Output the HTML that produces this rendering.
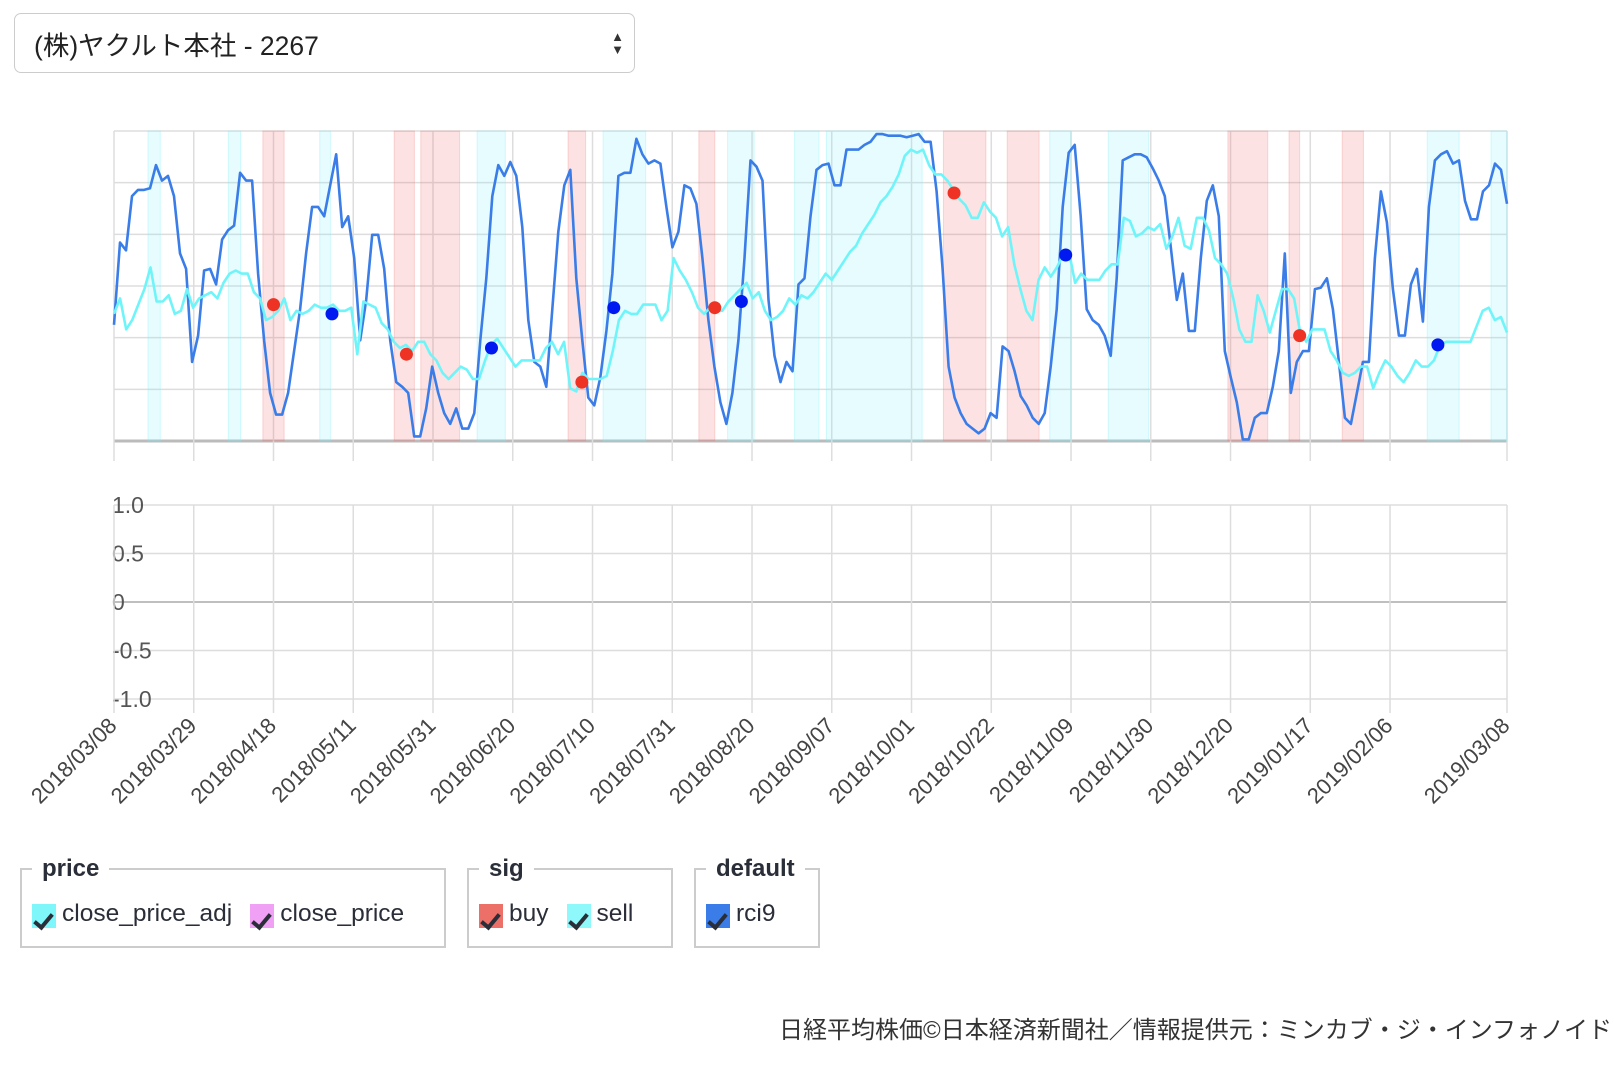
<!DOCTYPE html>
<html><head><meta charset="utf-8">
<style>
html,body{margin:0;padding:0;background:#fff;}
body{width:1614px;height:1074px;overflow:hidden;position:relative;font-family:"Liberation Sans","Noto Sans CJK JP",sans-serif;}
#sel{position:absolute;left:14px;top:13px;width:621px;height:60px;border:1px solid #ccc;border-radius:7px;box-sizing:border-box;background:#fff;}
#sel span{position:absolute;left:19px;top:10px;font-size:26.5px;color:#222;}
#sel i{position:absolute;right:10px;top:16px;font-style:normal;font-size:13px;line-height:13px;color:#333;}
fieldset{position:absolute;top:855px;height:93px;border:2px solid #ccc;margin:0;padding:0 10px;box-sizing:border-box;}
legend{font-weight:bold;font-size:24px;color:#2a2e38;padding:0 10px;}
.item{display:inline-block;font-size:24.5px;color:#2a2e38;margin-right:18px;margin-top:17px;position:relative;padding-left:30px;}
.sw{position:absolute;left:0;top:4px;width:24px;height:24px;}
.sw:after{content:"";position:absolute;left:6px;top:6px;width:7px;height:15px;border-right:4px solid #2a2e38;border-bottom:4px solid #2a2e38;transform:rotate(40deg);}
#foot{position:absolute;right:2px;top:1010px;font-size:24px;color:#333;}
</style></head><body>
<div id="sel"><span>(株)ヤクルト本社 - 2267</span><i>▲<br>▼</i></div>
<svg id="chart" width="1614" height="840" style="position:absolute;left:0;top:0"></svg>
<fieldset style="left:20px;width:426px"><legend>price</legend>
<span class="item"><span class="sw" style="background:#7ff7fa"></span>close_price_adj</span><span class="item"><span class="sw" style="background:#f0a0f5"></span>close_price</span></fieldset>
<fieldset style="left:467px;width:206px"><legend>sig</legend>
<span class="item"><span class="sw" style="background:#ec6f68"></span>buy</span><span class="item"><span class="sw" style="background:#8ff8fa"></span>sell</span></fieldset>
<fieldset style="left:694px;width:126px"><legend>default</legend>
<span class="item"><span class="sw" style="background:#3a7de8"></span>rci9</span></fieldset>
<div id="foot">日経平均株価©日本経済新聞社／情報提供元：ミンカブ・ジ・インフォノイド</div>
<script>
const tickLabels=["2018/03/08","2018/03/29","2018/04/18","2018/05/11","2018/05/31","2018/06/20","2018/07/10","2018/07/31","2018/08/20","2018/09/07","2018/10/01","2018/10/22","2018/11/09","2018/11/30","2018/12/20","2019/01/17","2019/02/06","2019/03/08"];
const tickDays=[0,15,30,45,60,75,90,105,120,135,150,165,180,195,210,225,240,262];
const rci9=[-25,28,23,58,62,62,63,78,68,71,58,21,11,-49,-32,10,11,1,30,36,39,73,68,68,8,-35,-69,-83,-83,-69,-42,-15,21,51,51,45,65,85,38,45,18,-35,-9,33,33,11,-35,-62,-65,-69,-97,-97,-79,-52,-69,-82,-89,-79,-92,-92,-82,-35,5,58,78,71,80,71,38,-22,-49,-52,-65,-15,35,65,75,5,-35,-72,-77,-59,-29,8,71,73,73,95,85,79,81,79,51,25,35,65,63,53,18,-22,-52,-75,-89,-69,-35,18,81,77,68,-9,-45,-62,-49,-55,1,5,45,75,78,79,65,65,88,88,88,91,93,98,98,97,97,97,96,97,98,93,93,61,11,-52,-72,-82,-89,-92,-95,-92,-82,-85,-39,-42,-55,-71,-77,-85,-89,-82,-52,-15,51,86,91,45,-15,-22,-25,-32,-45,5,81,83,85,85,83,76,68,58,25,-9,8,-29,-29,18,55,65,45,-42,-59,-75,-99,-99,-85,-82,-82,-65,-42,21,-69,-49,-42,-42,-2,-1,5,-15,-49,-85,-89,-69,-49,-49,18,61,41,-2,-32,-32,1,11,-23,51,81,85,87,79,81,55,43,43,61,65,79,75,53];
const closeAdj=[41,46,36,39,44,49,56,45,45,47,41,42,49,43,46,47,48,46,51,54,55,54,54,48,46,39,40,42,46,39,42,41,42,44,43,43,44,42,42,43,28,45,44,43,38,36,32,30,31,29,32,32,28,26,22,20,22,24,23,20,20,26,31,33,30,27,24,26,26,26,26,30,32,28,32,17,16,22,20,20,20,21,29,39,42,41,41,44,44,44,39,42,59,55,52,48,43,41,43,42,42,45,47,49,51,46,48,42,39,40,42,46,44,47,46,48,51,54,52,55,58,61,63,67,70,73,77,79,82,86,92,94,93,94,89,86,86,84,81,78,76,72,72,77,74,72,66,69,57,49,42,39,52,56,53,56,60,61,51,54,52,52,52,55,57,57,72,71,66,67,69,68,70,62,66,72,63,62,72,72,68,59,57,54,46,36,32,32,47,42,35,42,49,49,46,35,32,36,36,36,29,26,22,21,22,24,24,17,22,26,24,21,19,22,26,24,24,26,31,32,32,32,32,32,37,42,43,39,40,35];
const buyDays=[30,55,88,113,158,223];
const buyVals=[44,28,19,43,80,34];
const sellDays=[41,71,94,118,179,249];
const sellVals=[41,30,43,45,60,31];
const buyBands=[[28,32],[52.7,56.5],[57.7,65],[85.4,88.7],[110,113],[156,164],[168,174],[209.5,217],[221,223],[231,235]];
const sellBands=[[6.4,8.7],[21.5,23.8],[38.7,40.7],[68.3,73.6],[92,100],[115.4,120.4],[128,132.6],[134,152],[176,180],[187,194.6],[247,253],[259,262]];
const lowTicks=[1.0,0.5,0,-0.5,-1.0];
const lowTickLabels=["1.0","0.5","0","-0.5","-1.0"];

const NS="http://www.w3.org/2000/svg";
const svg=document.getElementById('chart');
const X0=114,X1=1507,DMAX=262,T0=131,T1=441,L0=505,L1=699;
const xs=d=>X0+(d/DMAX)*(X1-X0);
const yR=v=>(T0+T1)/2-v*(T1-T0)/200;
const yP=p=>T1-p*(T1-T0)/100;
const yL=v=>(L0+L1)/2-v*(L1-L0)/2;
function mk(tag,attrs,parent){const e=document.createElementNS(NS,tag);for(const k in attrs)e.setAttribute(k,attrs[k]);(parent||svg).appendChild(e);return e;}

for(let i=0;i<=6;i++){const y=T0+i*(T1-T0)/6;const l=mk('line',{x1:X0,x2:X1,y1:y,y2:y,stroke:i==6?'#bbb':'#ddd','stroke-width':i==6?3:1.5});

}
tickDays.forEach(d=>{const l=mk('line',{x1:xs(d),x2:xs(d),y1:T0,y2:T1+20,stroke:'#ddd','stroke-width':1.5});

});
buyBands.forEach(b=>{const r=mk('rect',{x:xs(b[0]),y:T0,width:xs(b[1])-xs(b[0]),height:T1-T0,fill:'rgba(242,110,110,0.2)',stroke:'rgba(242,110,110,0.25)','stroke-width':1});

});
sellBands.forEach(b=>{const r=mk('rect',{x:xs(b[0]),y:T0,width:xs(b[1])-xs(b[0]),height:T1-T0,fill:'rgba(120,240,250,0.18)',stroke:'rgba(120,240,250,0.3)','stroke-width':1});

});
function line(arr,yf,color,name){const n=arr.length;const pts=arr.map((v,i)=>xs(i*DMAX/(n-1)).toFixed(1)+','+yf(v).toFixed(1)).join(' ');
const p=mk('polyline',{points:pts,fill:'none',stroke:color,'stroke-width':2.6,'stroke-linejoin':'round'});

}
line(rci9,yR,'#3a7de8','rci9-line');
line(closeAdj,yP,'#6ff5f9','close-price-adj-line');
buyDays.forEach((d,i)=>{const c=mk('circle',{cx:xs(d),cy:yP(buyVals[i]),r:6.5,fill:'#ee3224'});

});
sellDays.forEach((d,i)=>{const c=mk('circle',{cx:xs(d),cy:yP(sellVals[i]),r:6.5,fill:'#0019f0'});

});

lowTicks.forEach((v,i)=>{const y=yL(v);const l=mk('line',{x1:X0,x2:X1,y1:y,y2:y,stroke:v==0?'#aaa':'#ddd','stroke-width':1.5});


const t=mk('text',{x:X0-2,y:y+8,'font-size':23,fill:'#555','font-family':'Liberation Sans, sans-serif'});
t.textContent=lowTickLabels[i];

});
tickDays.forEach((d,i)=>{const x=xs(d);const l=mk('line',{x1:x,x2:x,y1:L0,y2:L1+14,stroke:'#ddd','stroke-width':1.5});


const t=mk('text',{x:x+4,y:L1+28,'font-size':22,fill:'#444','text-anchor':'end','font-family':'Liberation Sans, sans-serif',transform:`rotate(-45 ${x+4} ${L1+28})`});
t.textContent=tickLabels[i];

});
</script>
</body></html>
